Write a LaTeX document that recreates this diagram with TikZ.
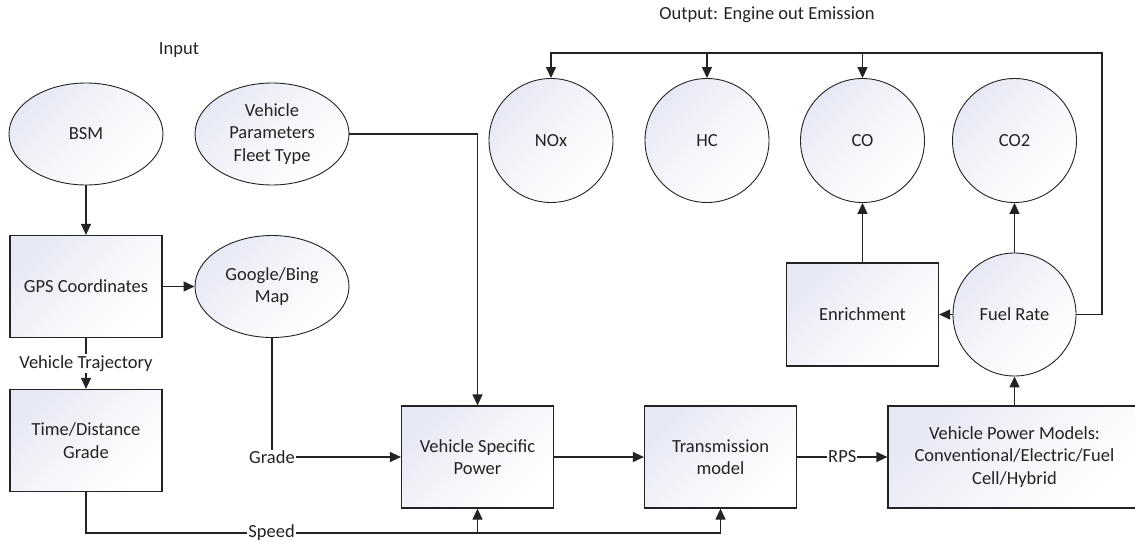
\documentclass[tikz,border=0pt]{standalone}
\usepackage{fontspec}
\setmainfont{Carlito}
\usetikzlibrary{arrows.meta,shapes.geometric}
\definecolor{ink}{RGB}{35,35,35}
\definecolor{tint}{RGB}{230,232,244}
\tikzset{
  every node/.style={font=\fontsize{18.5}{22.5}\selectfont, text=ink},
  shaded/.style={top color=tint, bottom color=white, middle color=white!60!tint, shading angle=45},
  box/.style={draw=ink, line width=1.2pt, shaded, minimum width=152pt,
    minimum height=102pt, align=center, inner sep=2pt},
  oval/.style={ellipse, draw=ink, line width=0.9pt, shaded, minimum width=154pt,
    minimum height=102pt, inner sep=0pt, align=center},
  disc/.style={circle, draw=ink, line width=0.9pt, shaded, minimum size=124pt,
    inner sep=0pt, align=center},
  link/.style={draw=ink, line width=1.2pt, -{Triangle[length=11pt,width=10pt]}},
  tag/.style={fill=white, inner sep=1pt},
}
\begin{document}
\begin{tikzpicture}[x=1pt, y=-1pt]
\useasboundingbox (0,0) rectangle (1135,544);

% input side
\node (in) at (179,50) {Input};
\node[oval] (bsm) at (86,134) {BSM};
\node[oval] (vp) at (272,134) {Vehicle\\Parameters\\Fleet Type};
\node[box] (gps) at (86,286.5) {GPS Coordinates};
\node[oval] (map) at (272,286.5) {Google/Bing\\Map};
\node[box] (td) at (86,440.5) {Time/Distance\\Grade};

% power chain
\node[box] (vsp) at (477.5,457) {Vehicle Specific\\Power};
\node[box] (tm) at (720.5,457) {Transmission\\model};
\node[box, minimum width=253pt] (vpm) at (1014.5,457)
  {Vehicle Power Models:\\Conventional/Electric/Fuel\\Cell/Hybrid};
\node[disc, minimum size=123pt] (fr) at (1014.5,314.5) {Fuel Rate};
\node[box, minimum height=103pt] (en) at (862.5,314.5) {Enrichment};

% emissions
\node (out) at (767,15) {Output: Engine out Emission};
\node[disc] (nox) at (551,140.5) {NOx};
\node[disc] (hc) at (707,140.5) {HC};
\node[disc] (co) at (862.5,140.5) {CO};
\node[disc] (co2) at (1014.5,140.5) {CO2};

\coordinate (spd) at (477.5,533);
\coordinate (top) at (1102,53);

% connectors
\draw[link] (bsm) -- (gps);
\draw[link] (gps) -- (map);
\draw[link] (gps) -- node[tag]{Vehicle Trajectory} (td);
\draw[link] (map.south) |- node[tag,pos=0.5]{Grade} (vsp.west);
\draw[link] (vp.east) -| (vsp.north);
\draw[link] (td.south) |- node[tag,pos=0.737]{Speed} (spd) -- (vsp.south);
\draw[link] (spd) -| (tm.south);
\draw[link] (vsp) -- (tm);
\draw[link] (tm) -- node[tag]{RPS} (vpm);
\draw[link] (vpm) -- (fr);
\draw[link] (fr) -- (en);
\draw[link] (en) -- (co);
\draw[link] (fr) -- (co2);
\draw[link] (fr.east) -| (top) -| (nox.north);
\draw[link] (hc.north |- top) -- (hc.north);
\draw[link] (co.north |- top) -- (co.north);
\end{tikzpicture}
\end{document}
